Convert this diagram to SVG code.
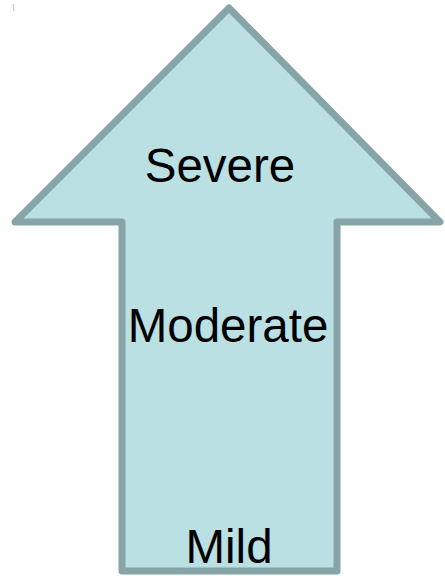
<svg xmlns="http://www.w3.org/2000/svg" width="445" height="576" viewBox="0 0 445 576">
<style>
.arrow{fill:#bbe0e3;stroke:#87a4a7;stroke-width:7;stroke-linejoin:round}
.lbl{font-family:"Liberation Sans",Arial,sans-serif;font-size:47.5px;fill:#000;text-anchor:middle}
</style>
<rect width="445" height="576" fill="#fff"/>
<line x1="13.5" y1="4" x2="13.5" y2="11" stroke="#c6d3d6" stroke-width="1.5"/>
<g id="arrow">
<polygon class="arrow" points="229,8 440,222 337,222 337,571 122,571 122,222 15,222"/>
</g>
<g id="severe"><text class="lbl" x="220" y="182">Severe</text></g>
<g id="moderate"><text class="lbl" x="228" y="342">Moderate</text></g>
<g id="mild"><text class="lbl" x="229" y="563">Mild</text></g>
<g id="connectors"></g>
</svg>
